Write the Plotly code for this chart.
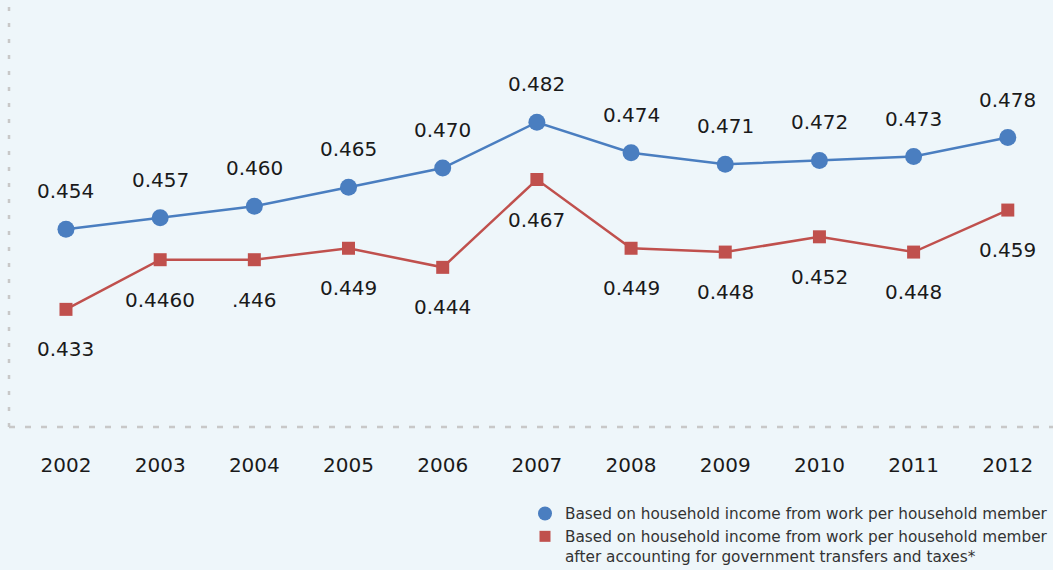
import plotly.graph_objects as go

years = [2002, 2003, 2004, 2005, 2006, 2007, 2008, 2009, 2010, 2011, 2012]
work_income = [0.454, 0.457, 0.460, 0.465, 0.470, 0.482, 0.474, 0.471, 0.472, 0.473, 0.478]
work_labels = ["0.454", "0.457", "0.460", "0.465", "0.470", "0.482", "0.474", "0.471", "0.472", "0.473", "0.478"]
after_transfers = [0.433, 0.446, 0.446, 0.449, 0.444, 0.467, 0.449, 0.448, 0.452, 0.448, 0.459]
after_labels = ["0.433", "0.4460", ".446", "0.449", "0.444", "0.467", "0.449", "0.448", "0.452", "0.448", "0.459"]
legend_names = [
    "Based on household income from work per household member",
    "Based on household income from work per household member<br>after accounting for government transfers and taxes*",
]

BLUE = "#4A7EC0"
RED = "#C0504D"
BG = "#EEF6FA"
FONT = "DejaVu Sans, Liberation Sans, Arial, sans-serif"

fig = go.Figure()
fig.add_trace(go.Scatter(
    x=years, y=work_income, mode="lines+markers", showlegend=False,
    line=dict(color=BLUE, width=2.5),
    marker=dict(symbol="circle", size=17, color=BLUE),
))
fig.add_trace(go.Scatter(
    x=years, y=after_transfers, mode="lines+markers", showlegend=False,
    line=dict(color=RED, width=2.5),
    marker=dict(symbol="square", size=13, color=RED),
))
# legend-only entries (marker only)
fig.add_trace(go.Scatter(x=[None], y=[None], mode="markers", name=legend_names[0],
                         marker=dict(symbol="circle", size=14, color=BLUE)))
fig.add_trace(go.Scatter(x=[None], y=[None], mode="markers", name=legend_names[1],
                         marker=dict(symbol="square", size=11, color=RED)))

annotations = []
for x, y, t in zip(years, work_income, work_labels):
    annotations.append(dict(x=x, y=y, text=t, showarrow=False, yshift=38,
                            font=dict(size=20, color="#1a1a1a", family=FONT)))
for x, y, t in zip(years, after_transfers, after_labels):
    annotations.append(dict(x=x, y=y, text=t, showarrow=False, yshift=-40,
                            font=dict(size=20, color="#1a1a1a", family=FONT)))

fig.update_layout(
    width=1053, height=570,
    margin=dict(l=9, r=0, t=0, b=143, autoexpand=False),
    paper_bgcolor=BG, plot_bgcolor=BG,
    font=dict(family=FONT, color="#222"),
    annotations=annotations,
    showlegend=True,
    legend=dict(x=1, xanchor="right", xref="container", yref="container",
                y=1 - 497 / 570, yanchor="top", valign="top",
                font=dict(size=15.3, color="#333", family=FONT),
                bgcolor="rgba(0,0,0,0)", tracegroupgap=0, itemwidth=30),
    xaxis=dict(range=[2001.395, 2012.48], tickvals=years, ticktext=[str(y) for y in years],
               showgrid=False, zeroline=False, showline=False, automargin=False,
               tickfont=dict(size=20, color="#1a1a1a", family=FONT),
               ticks="outside", ticklen=20, tickcolor="rgba(0,0,0,0)"),
    yaxis=dict(range=[0.4022, 0.514], showgrid=False, zeroline=False, showline=False,
               showticklabels=False, automargin=False),
    shapes=[
        dict(type="line", xref="paper", yref="paper", x0=0, x1=0, y0=0, y1=0.995,
             line=dict(color="#C8C8C8", width=2.5, dash="4px,12px")),
        dict(type="line", xref="paper", yref="paper", x0=0, x1=1, y0=0, y1=0,
             line=dict(color="#C8C8C8", width=2.5, dash="6px,10px")),
    ],
)

fig.write_html("out.html")
